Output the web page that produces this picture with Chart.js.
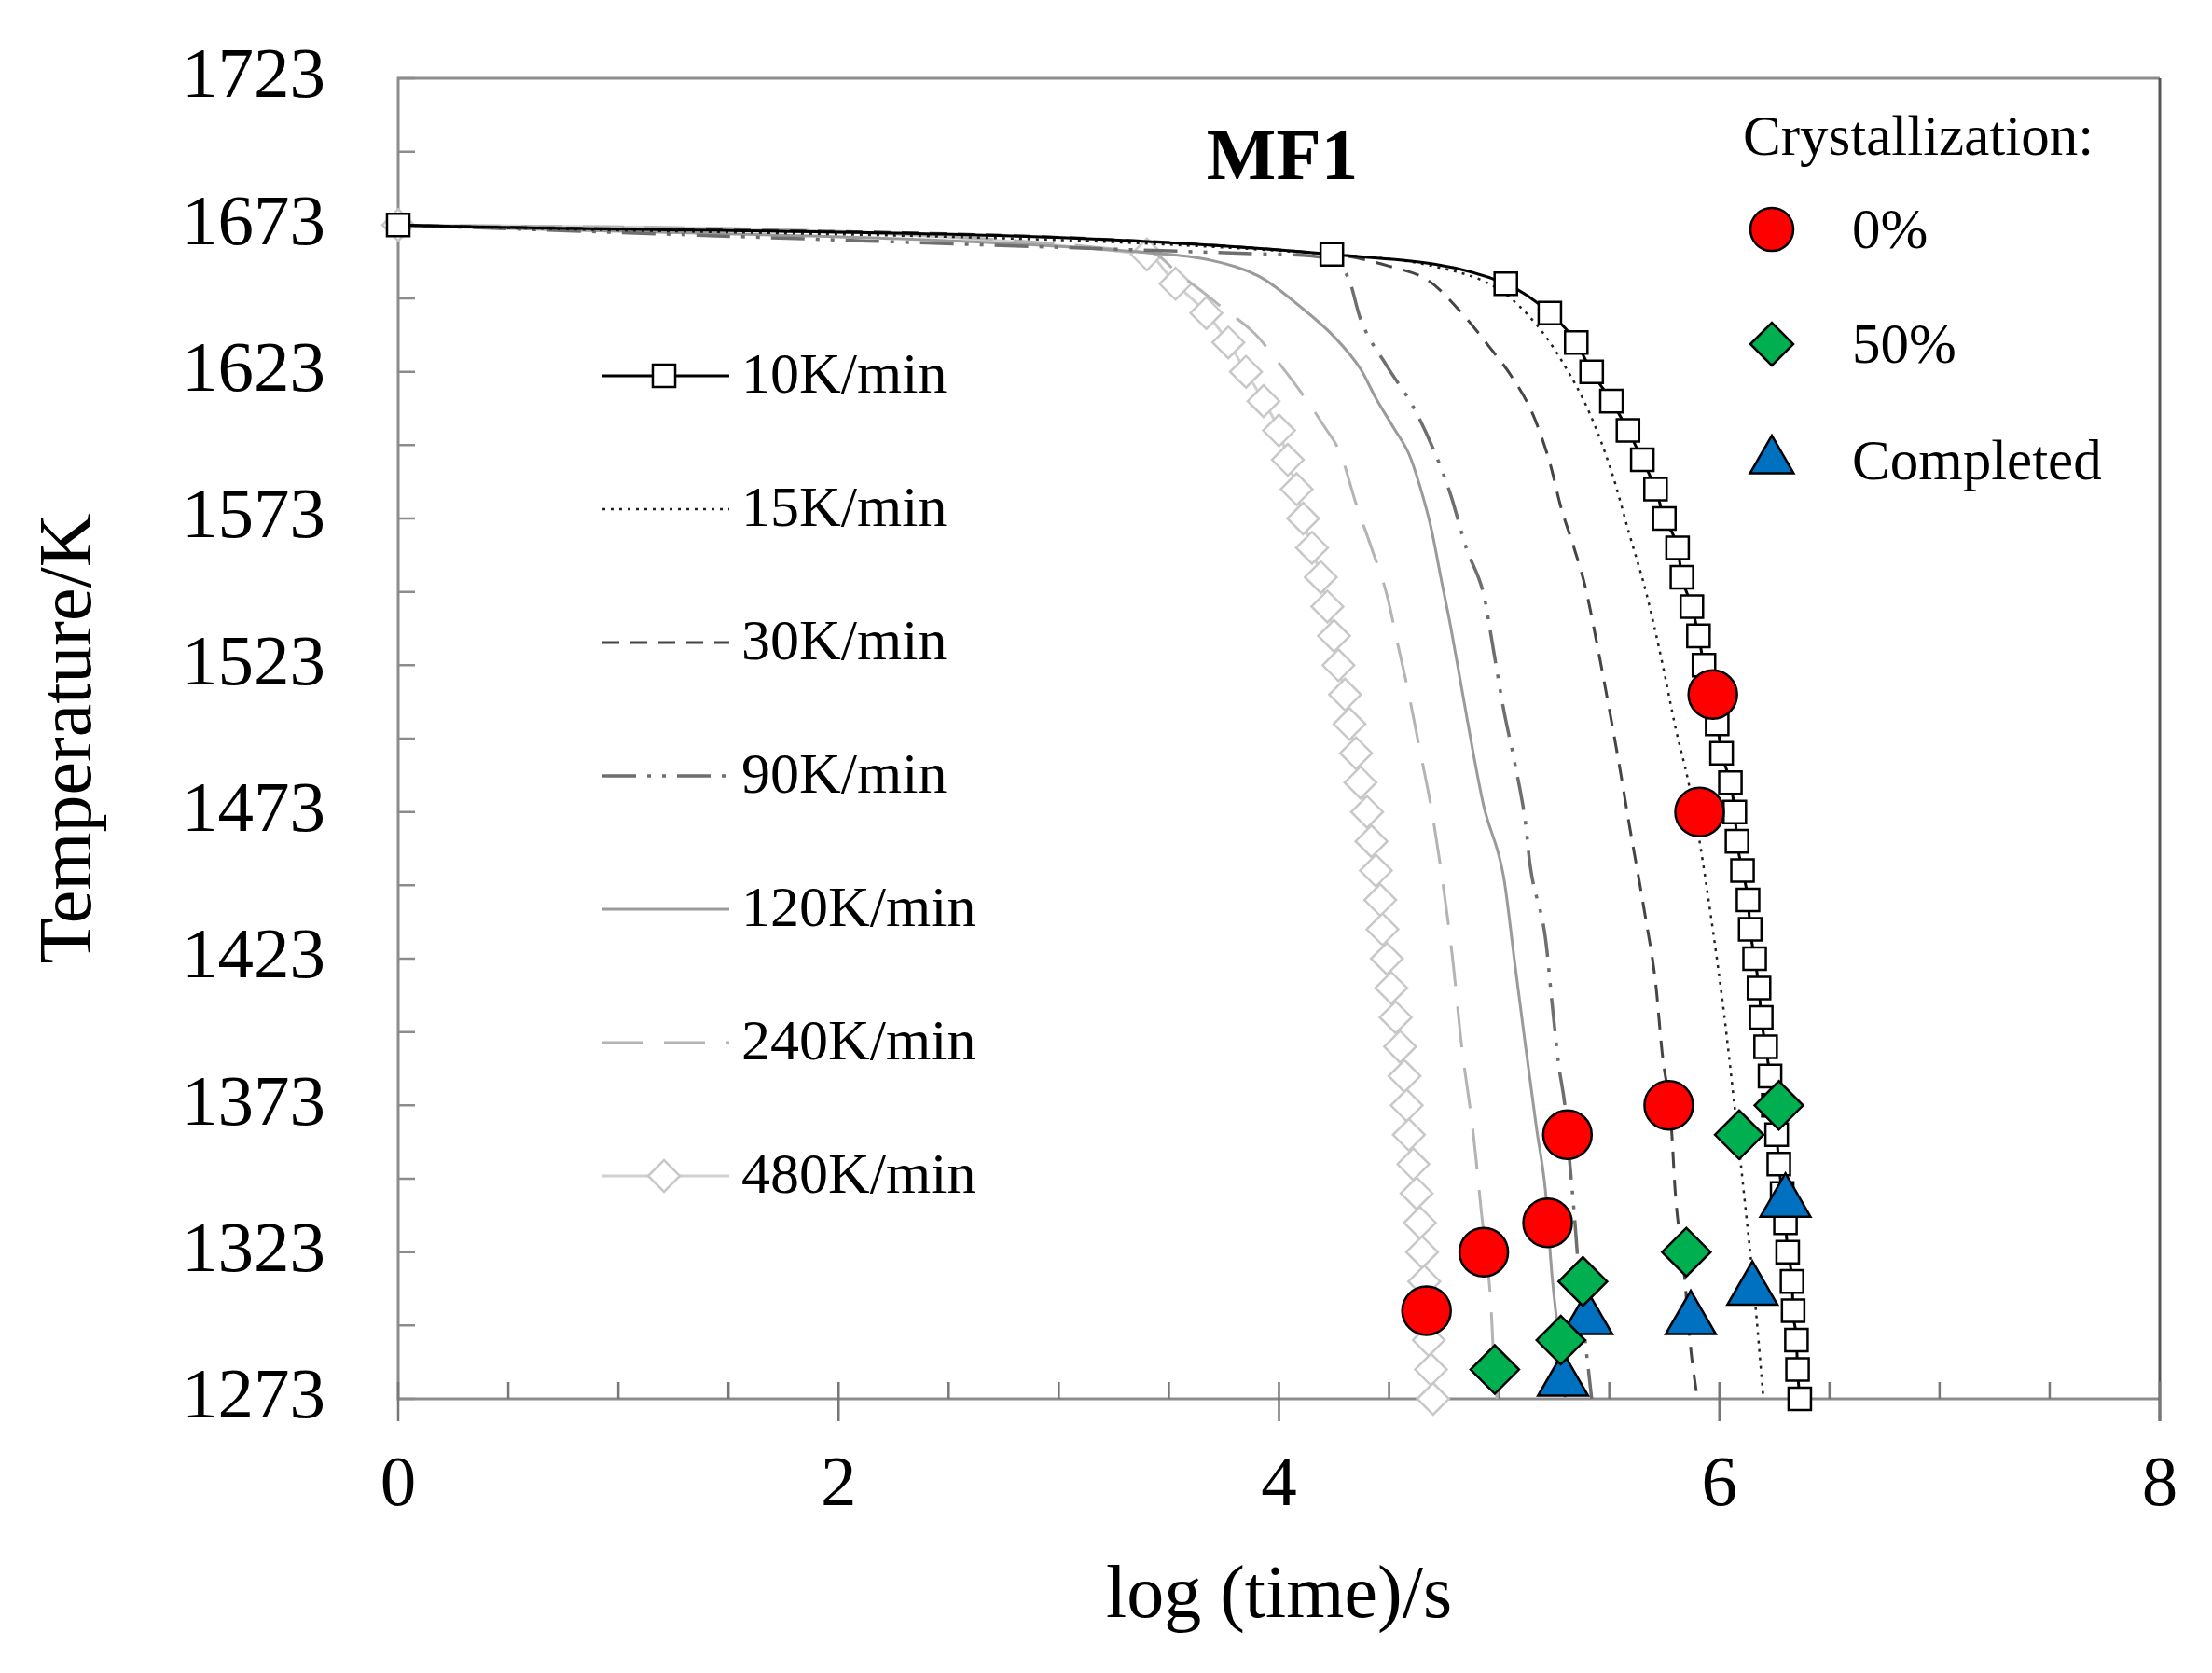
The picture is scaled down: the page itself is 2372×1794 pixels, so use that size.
<!DOCTYPE html>
<html>
<head>
<meta charset="utf-8">
<script src="https://cdn.jsdelivr.net/npm/chart.js@4.4.1/dist/chart.umd.min.js"></script>
<style>
  html, body { margin: 0; padding: 0; background: #fff; }
  #wrap { width: 2372px; height: 1794px; }
</style>
</head>
<body>
<div id="wrap"><canvas id="myChart" width="2372" height="1794"></canvas></div>
<script>
// axis ticks
const xTicks = [0, 2, 4, 6, 8];
const yTicks = [1273, 1323, 1373, 1423, 1473, 1523, 1573, 1623, 1673, 1723];
const xMinor = [0.5, 1, 1.5, 2.5, 3, 3.5, 4.5, 5, 5.5, 6.5, 7, 7.5];
const yMinor = [1298, 1348, 1398, 1448, 1498, 1548, 1598, 1648, 1698];

// cooling curves: log(time)/s  vs  temperature/K
const x10 = [0, 4.24, 5.03, 5.23, 5.35, 5.42, 5.51, 5.585, 5.65, 5.71, 5.75, 5.81, 5.83, 5.875, 5.905, 5.93, 5.96, 5.99, 6.01, 6.05, 6.07, 6.08, 6.105, 6.13, 6.14, 6.16, 6.18, 6.19, 6.21, 6.23, 6.245, 6.26, 6.27, 6.285, 6.30, 6.31, 6.33, 6.335, 6.35, 6.355, 6.365];
const t10 = [1673, 1663, 1653, 1643, 1633, 1623, 1613, 1603, 1593, 1583, 1573, 1563, 1553, 1543, 1533, 1523, 1513, 1503, 1493, 1483, 1473, 1463, 1453, 1443, 1433, 1423, 1413, 1403, 1393, 1383, 1373, 1363, 1353, 1343, 1333, 1323, 1313, 1303, 1293, 1283, 1273];

const x15 = [0, 4.24, 4.7, 5.0, 5.17, 5.29, 5.41, 5.51, 5.59, 5.67, 5.74, 5.80, 5.86, 5.91, 5.97, 6.02, 6.07, 6.12, 6.16, 6.20];
const t15 = [1673, 1663, 1659, 1651, 1639, 1626, 1609, 1589, 1568, 1547, 1524, 1502, 1483, 1463, 1433, 1405, 1372, 1337, 1308, 1273];

const x30 = [0, 4.24, 4.5, 4.68, 4.83, 4.95, 5.06, 5.15, 5.23, 5.28, 5.34, 5.39, 5.45, 5.50, 5.55, 5.59, 5.66, 5.71, 5.74, 5.78, 5.80, 5.84, 5.87, 5.90];
const t30 = [1673, 1663, 1659, 1654, 1643, 1632, 1621, 1609, 1592, 1577, 1563, 1550, 1528, 1508, 1487, 1469, 1439, 1415, 1391, 1368, 1343, 1316, 1290, 1273];

const x90 = [0, 4.0, 4.25, 4.32, 4.37, 4.49, 4.61, 4.71, 4.78, 4.85, 4.93, 4.97, 5.02, 5.07, 5.12, 5.14, 5.21, 5.24, 5.27, 5.30, 5.32, 5.34, 5.37, 5.42];
const t90 = [1673, 1663, 1661, 1654, 1641, 1625, 1611, 1595, 1581, 1563, 1547, 1530, 1508, 1490, 1469, 1455, 1430, 1408, 1387, 1372, 1354, 1337, 1308, 1273];

const x120 = [0, 3.42, 3.69, 3.91, 4.10, 4.25, 4.37, 4.44, 4.52, 4.59, 4.64, 4.69, 4.74, 4.78, 4.83, 4.88, 4.93, 5.02, 5.07, 5.12, 5.17, 5.21, 5.24, 5.27, 5.30];
const t120 = [1673, 1663.5, 1661, 1655.5, 1645, 1635, 1624, 1614, 1604, 1595, 1584, 1570, 1551, 1536, 1515, 1494, 1475, 1451, 1422, 1393, 1365, 1344, 1315, 1294, 1273];

const x240 = [0, 3.42, 3.55, 3.64, 3.74, 3.89, 4.01, 4.11, 4.20, 4.28, 4.35, 4.42, 4.49, 4.54, 4.59, 4.64, 4.69, 4.74, 4.79, 4.83, 4.88, 4.92, 4.96, 4.98, 4.99];
const t240 = [1673, 1663.5, 1656, 1651, 1645, 1636, 1625, 1615, 1605, 1595, 1578, 1563, 1547, 1530, 1513, 1494, 1475, 1451, 1422, 1393, 1365, 1336, 1308, 1280, 1273];

const x480 = [0, 3.40, 3.53, 3.67, 3.77, 3.85, 3.93, 4.00, 4.04, 4.08, 4.11, 4.15, 4.19, 4.22, 4.25, 4.27, 4.30, 4.32, 4.35, 4.37, 4.40, 4.42, 4.44, 4.46, 4.47, 4.49, 4.51, 4.53, 4.55, 4.57, 4.58, 4.59, 4.61, 4.625, 4.64, 4.65, 4.66, 4.67, 4.68, 4.69, 4.70];
const t480 = [1673, 1663, 1653, 1643, 1633, 1623, 1613, 1603, 1593, 1583, 1573, 1563, 1553, 1543, 1533, 1523, 1513, 1503, 1493, 1483, 1473, 1463, 1453, 1443, 1433, 1423, 1413, 1403, 1393, 1383, 1373, 1363, 1353, 1343, 1333, 1323, 1313, 1303, 1293, 1283, 1273];

// crystallization points
const xStart = [5.97, 5.91, 5.77, 5.31, 5.22, 4.93, 4.67];
const tStart = [1513, 1473, 1373, 1363, 1333, 1323, 1303];
const xHalf = [6.27, 6.09, 5.85, 5.38, 5.28, 4.98];
const tHalf = [1373, 1363, 1323, 1313, 1293, 1283];
const xDone = [6.30, 6.15, 5.87, 5.40, 5.29];
const tDone = [1340, 1310, 1300, 1300, 1279];

function pts(xs, ts) {
  return xs.map((v, i) => ({ x: v, y: ts[i] }));
}

function curve(label, xs, ts, color, dash, width, order) {
  return {
    label: label,
    data: pts(xs, ts),
    showLine: true,
    borderColor: color,
    borderWidth: width,
    borderDash: dash,
    pointRadius: 0,
    cubicInterpolationMode: 'monotone',
    clip: false,
    order: order
  };
}

const lineSets = [
  Object.assign(curve('10K/min', x10, t10, '#000000', [], 3, 1), {
    pointStyle: 'rect', pointRadius: 17, pointBackgroundColor: '#ffffff',
    pointBorderColor: '#000000', pointBorderWidth: 2.5
  }),
  curve('15K/min', x15, t15, '#222222', [3, 6], 2.5, 2),
  curve('30K/min', x30, t30, '#454545', [18, 12], 3, 3),
  curve('90K/min', x90, t90, '#6e6e6e', [36, 12, 4, 12, 4, 12], 3.5, 4),
  curve('120K/min', x120, t120, '#9a9a9a', [], 3, 5),
  curve('240K/min', x240, t240, '#b4b4b4', [44, 22], 3, 6),
  Object.assign(curve('480K/min', x480, t480, '#d0d0d0', [], 3, 7), {
    pointStyle: 'rectRot', pointRadius: 17, pointBackgroundColor: '#ffffff',
    pointBorderColor: '#c8c8c8', pointBorderWidth: 2.5
  })
];

const markSets = [
  { label: '0%', data: pts(xStart, tStart), pointStyle: 'circle', pointRadius: 26,
    backgroundColor: '#ff0000', borderColor: '#000000', borderWidth: 2.5, clip: false, order: 0 },
  { label: '50%', data: pts(xHalf, tHalf), pointStyle: 'rectRot', pointRadius: 26,
    backgroundColor: '#00b050', borderColor: '#000000', borderWidth: 2.5, clip: false, order: 0 },
  { label: 'Completed', data: pts(xDone, tDone), pointStyle: 'triangle', pointRadius: 31,
    backgroundColor: '#0070c0', borderColor: '#000000', borderWidth: 2.5, clip: false, order: 0 }
];

function marker(c, style, x, y, r) {
  c.beginPath();
  if (style === 'circle') {
    c.arc(x, y, r, 0, Math.PI * 2);
  } else if (style === 'rect') {
    const s = r * Math.SQRT1_2;
    c.rect(x - s, y - s, 2 * s, 2 * s);
  } else if (style === 'rectRot') {
    c.moveTo(x - r, y); c.lineTo(x, y - r); c.lineTo(x + r, y); c.lineTo(x, y + r);
    c.closePath();
  } else if (style === 'triangle') {
    c.moveTo(x, y - r);
    c.lineTo(x + r * 0.866, y + r * 0.5);
    c.lineTo(x - r * 0.866, y + r * 0.5);
    c.closePath();
  }
  c.fill();
  c.stroke();
}

const serif = "'Liberation Serif', 'Times New Roman', serif";

// frame, inside ticks
const framePlugin = {
  id: 'frame',
  beforeDatasetsDraw(chart) {
    const c = chart.ctx, a = chart.chartArea;
    const xs = chart.scales.x, ys = chart.scales.y;
    c.save();
    c.lineWidth = 3;
    c.strokeStyle = '#8c8c8c';
    c.beginPath();
    c.moveTo(a.right, a.top); c.lineTo(a.left, a.top); c.lineTo(a.left, a.bottom); c.lineTo(a.right, a.bottom);
    c.stroke();
    c.strokeStyle = '#555555';
    c.beginPath();
    c.moveTo(a.right, a.top); c.lineTo(a.right, a.bottom + 24);
    c.stroke();

    c.lineWidth = 2.5;
    c.strokeStyle = '#8c8c8c';
    c.beginPath();
    yTicks.concat(yMinor).forEach(v => {
      const py = ys.getPixelForValue(v);
      c.moveTo(a.left, py); c.lineTo(a.left + 18, py);
    });
    c.stroke();

    c.strokeStyle = '#777777';
    c.beginPath();
    xMinor.forEach(v => {
      const px = xs.getPixelForValue(v);
      c.moveTo(px, a.bottom); c.lineTo(px, a.bottom - 18);
    });
    xTicks.forEach(v => {
      const px = xs.getPixelForValue(v);
      c.moveTo(px, a.bottom - 18); c.lineTo(px, a.bottom + 24);
    });
    c.stroke();
    c.restore();
  },
  afterDraw(chart) {
    const c = chart.ctx, a = chart.chartArea;
    c.save();
    c.fillStyle = '#000';
    c.textBaseline = 'middle';

    // title inside the plot
    c.font = 'bold 79px ' + serif;
    c.textAlign = 'center';
    c.fillText('MF1', a.left + 948, a.top + 88);

    // left legend: cooling rates
    c.font = '62px ' + serif;
    c.textAlign = 'left';
    lineSets.forEach((ds, i) => {
      const y = a.top + 319 + i * 143;
      c.save();
      c.strokeStyle = ds.borderColor;
      c.lineWidth = ds.borderWidth;
      c.setLineDash(ds.borderDash);
      c.beginPath();
      c.moveTo(a.left + 219, y); c.lineTo(a.left + 355, y);
      c.stroke();
      c.restore();
      if (ds.pointRadius > 0) {
        c.save();
        c.fillStyle = ds.pointBackgroundColor;
        c.strokeStyle = ds.pointBorderColor;
        c.lineWidth = ds.pointBorderWidth;
        marker(c, ds.pointStyle, a.left + 285, y, ds.pointRadius);
        c.restore();
      }
      c.fillText(ds.label, a.left + 368, y + 2);
    });

    // right legend: crystallization markers
    c.font = '61px ' + serif;
    c.fillText('Crystallization:', a.left + 1442, a.top + 66);
    const rows = [162, 285, 410];
    markSets.forEach((ds, i) => {
      const y = a.top + rows[i];
      c.save();
      c.fillStyle = ds.backgroundColor;
      c.strokeStyle = ds.borderColor;
      c.lineWidth = ds.borderWidth;
      const r = ds.pointStyle === 'triangle' ? 27 : 23;
      marker(c, ds.pointStyle, a.left + 1473, y, r);
      c.restore();
      c.fillText(ds.label, a.left + 1559, y + 4);
    });
    c.restore();
  }
};

Chart.defaults.font.family = serif;
Chart.defaults.color = '#000';

const myChart = new Chart(document.getElementById('myChart').getContext('2d'), {
  type: 'scatter',
  data: { datasets: markSets.concat(lineSets) },
  options: {
    responsive: false,
    devicePixelRatio: 1,
    animation: false,
    layout: { padding: { left: 0, top: 84, right: 56, bottom: 0 } },
    plugins: { legend: { display: false }, tooltip: { enabled: false } },
    scales: {
      x: {
        type: 'linear', min: 0, max: 8,
        grid: { display: false, drawTicks: false },
        border: { display: false },
        afterBuildTicks: s => { s.ticks = xTicks.map(v => ({ value: v })); },
        afterFit: s => { s.height = 294; s.paddingLeft = 0; s.paddingRight = 0; },
        ticks: { font: { size: 77 }, padding: 48, maxRotation: 0, color: '#000', callback: v => String(v) },
        title: { display: true, text: 'log (time)/s', font: { size: 80 }, color: '#000', padding: { top: 0, bottom: 33 } }
      },
      y: {
        type: 'linear', min: 1273, max: 1723,
        grid: { display: false, drawTicks: false },
        border: { display: false },
        afterBuildTicks: s => { s.ticks = yTicks.map(v => ({ value: v })); },
        afterFit: s => { s.width = 427; s.paddingTop = 0; s.paddingBottom = 0; },
        ticks: { font: { size: 77 }, padding: 78, color: '#000', callback: v => String(v) },
        title: { display: true, text: 'Temperature/K', font: { size: 80 }, color: '#000', padding: { top: 28, bottom: 0 } }
      }
    }
  },
  plugins: [framePlugin]
});
</script>
</body>
</html>
